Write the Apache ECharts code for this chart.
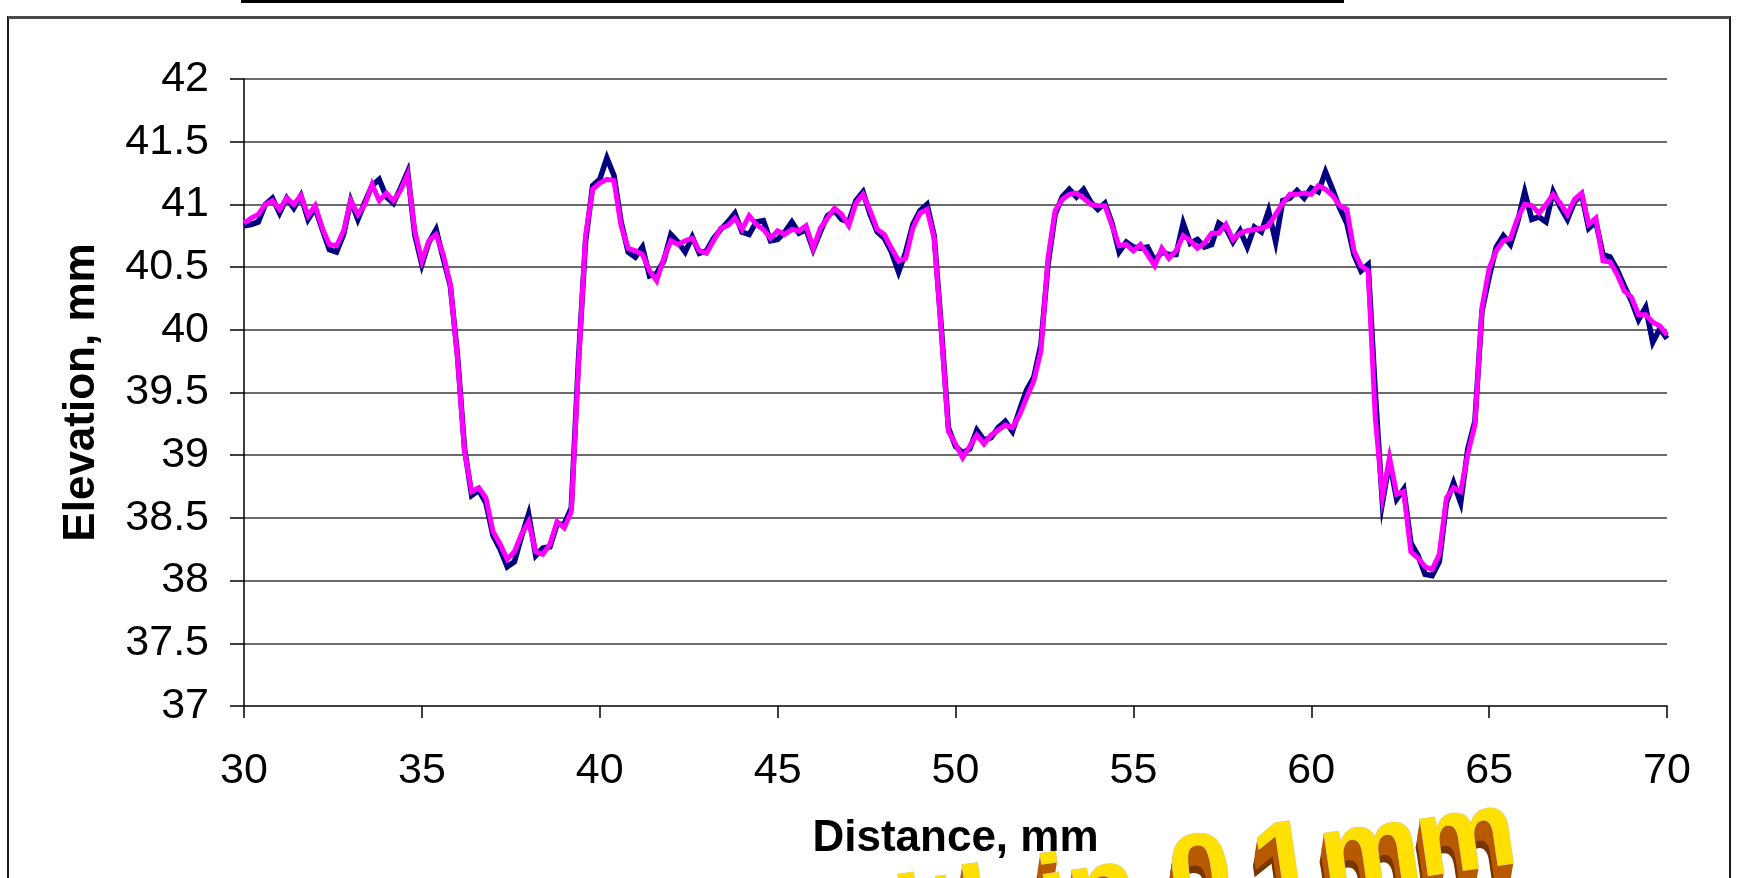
<!DOCTYPE html>
<html>
<head>
<meta charset="utf-8">
<title>Elevation profile</title>
<script src="https://cdn.jsdelivr.net/npm/echarts/dist/echarts.min.js"></script>
<style>
  html, body { margin: 0; padding: 0; background: #ffffff; }
  #chart { width: 1737px; height: 878px; }
</style>
</head>
<body>
<div id="chart"></div>
<script>
// Elevation profile, two overlaid scans sampled every 0.2 mm between 30 mm and 70 mm.
const SAMPLE_START_MM = 30;
const SAMPLE_STEP_MM = 0.2;

const X_TICKS = [30, 35, 40, 45, 50, 55, 60, 65, 70];
const Y_TICKS = [37, 37.5, 38, 38.5, 39, 39.5, 40, 40.5, 41, 41.5, 42];

// Scan 1 (navy), elevation in mm
const scanNavy = [
  40.83, 40.84, 40.86, 41.00, 41.05, 40.93, 41.05, 40.97, 41.07, 40.88,
  40.97, 40.80, 40.64, 40.62, 40.76, 41.03, 40.88, 41.02, 41.15, 41.20,
  41.06, 41.01, 41.13, 41.26, 40.76, 40.52, 40.70, 40.80, 40.57, 40.35,
  39.80, 39.05, 38.68, 38.72, 38.62, 38.36, 38.25, 38.11, 38.15, 38.35,
  38.53,
  38.20, 38.26, 38.27, 38.45, 38.45, 38.58, 39.75, 40.70, 41.15, 41.20,
  41.37, 41.23, 40.86, 40.62, 40.58, 40.66, 40.43, 40.45, 40.55, 40.76,
  40.70, 40.62, 40.74, 40.61, 40.63, 40.73, 40.80, 40.86, 40.93, 40.78,
  40.76, 40.86, 40.87, 40.71, 40.72, 40.78, 40.86, 40.77, 40.80, 40.64,
  40.78, 40.91, 40.95, 40.88, 40.86, 41.03, 41.10, 40.92, 40.78, 40.73,
  40.62, 40.46, 40.62, 40.84, 40.95, 41.00, 40.75, 40.02, 39.22, 39.07,
  39.02, 39.05, 39.20, 39.12, 39.14, 39.22, 39.27, 39.19, 39.36, 39.52,
  39.62, 39.88, 40.52, 40.92, 41.06, 41.12, 41.06, 41.12, 41.02, 40.96,
  41.01, 40.85, 40.62, 40.70, 40.66, 40.65, 40.66, 40.55, 40.62, 40.60,
  40.60, 40.85, 40.69, 40.72, 40.66, 40.68, 40.85, 40.81, 40.70, 40.79,
  40.66, 40.82, 40.78, 40.95, 40.70, 41.03, 41.05, 41.11, 41.05, 41.13,
  41.10, 41.26, 41.12, 40.97, 40.85, 40.60, 40.47, 40.52, 39.50, 38.62,
  38.95, 38.65, 38.73, 38.30, 38.20, 38.05, 38.04, 38.15, 38.62, 38.78,
  38.62, 39.05, 39.27, 40.15, 40.42, 40.66, 40.75, 40.68, 40.86, 41.10,
  40.88, 40.90, 40.86, 41.10, 40.98, 40.88, 41.02, 41.08, 40.81, 40.86,
  40.60, 40.58, 40.48, 40.35, 40.23, 40.08, 40.18, 39.90, 40.01, 39.93
];

// Scan 2 (magenta), elevation in mm
const scanMagenta = [
  40.85, 40.89, 40.92, 41.00, 41.03, 40.96, 41.05, 41.00, 41.07, 40.91,
  40.99, 40.81, 40.68, 40.67, 40.79, 41.03, 40.92, 41.00, 41.16, 41.03,
  41.09, 41.03, 41.11, 41.24, 40.79, 40.55, 40.71, 40.76, 40.60, 40.36,
  39.78, 39.03, 38.71, 38.74, 38.66, 38.39, 38.29, 38.17, 38.23, 38.37,
  38.47,
  38.23, 38.21, 38.29, 38.47, 38.42, 38.55, 39.70, 40.75, 41.12, 41.17,
  41.20, 41.19, 40.83, 40.65, 40.63, 40.60, 40.47, 40.39, 40.57, 40.71,
  40.68, 40.71, 40.73, 40.63, 40.61, 40.71, 40.81, 40.83, 40.89, 40.80,
  40.91, 40.84, 40.80, 40.73, 40.79, 40.76, 40.80, 40.79, 40.83, 40.65,
  40.81, 40.89, 40.97, 40.92, 40.83, 41.01, 41.08, 40.95, 40.80, 40.76,
  40.65, 40.55, 40.57, 40.81, 40.93, 40.96, 40.73, 39.99, 39.19, 39.09,
  38.98, 39.07, 39.16, 39.09, 39.16, 39.20, 39.24, 39.22, 39.32, 39.46,
  39.59, 39.83, 40.57, 40.95, 41.04, 41.08, 41.09, 41.05, 41.00, 40.99,
  40.99, 40.83, 40.67, 40.68, 40.63, 40.68, 40.60, 40.51, 40.65, 40.57,
  40.63, 40.75, 40.71, 40.65, 40.69, 40.77, 40.77, 40.84, 40.72, 40.77,
  40.79, 40.80, 40.81, 40.83, 40.92, 41.01, 41.08, 41.08, 41.09, 41.08,
  41.15, 41.12, 41.07, 40.99, 40.96, 40.63, 40.51, 40.47, 39.30, 38.67,
  38.98, 38.69, 38.71, 38.23, 38.18, 38.11, 38.09, 38.21, 38.66, 38.74,
  38.71, 39.01, 39.24, 40.18, 40.49, 40.63, 40.71, 40.73, 40.89, 41.00,
  40.99, 40.93, 41.00, 41.08, 41.01, 40.92, 41.04, 41.09, 40.84, 40.89,
  40.55, 40.54, 40.44, 40.31, 40.26, 40.12, 40.12, 40.06, 40.03, 39.96
];

const FONT = '"Liberation Sans", Arial, Helvetica, sans-serif';

function toPoints(values) {
  return values.map((v, i) => [+(SAMPLE_START_MM + i * SAMPLE_STEP_MM).toFixed(1), v]);
}

// Extruded yellow lettering, laid out glyph by glyph along a rising baseline
const BADGE_GLYPHS = [
  { ch: 'w', left: 825 }, { ch: 'i', left: 905 }, { ch: 't', left: 935 },
  { ch: 'h', left: 969 }, { ch: 'i', left: 1047 }, { ch: 'n', left: 1076 },
  { ch: '0', left: 1178 }, { ch: '.', left: 1244 }, { ch: '1', left: 1262 },
  { ch: 'm', left: 1328 }, { ch: 'm', left: 1424 }
];

function badgeLayers() {
  const rot = 0.145;
  const slope = Math.tan(rot);
  const baseAt = (x) => 902 + slope * (1456 - x);
  const font = 'bold 108px ' + FONT;
  const layers = [];
  BADGE_GLYPHS.forEach((g) => {
    const by = baseAt(g.left + 40);
    for (let d = 28; d >= 1; d -= 1.5) {
      layers.push({
        type: 'text', x: g.left - d * 0.15, y: by + d, rotation: rot, scaleX: 1.05,
        silent: true, z: 50,
        style: { text: g.ch, font: font, fill: d > 21 ? '#7a3600' : '#b85a00', align: 'left', verticalAlign: 'bottom' }
      });
    }
    layers.push({
      type: 'text', x: g.left, y: by, rotation: rot, scaleX: 1.05, silent: true, z: 51,
      style: { text: g.ch, font: font, fill: '#ffe000', stroke: '#d8c890', lineWidth: 1, align: 'left', verticalAlign: 'bottom' }
    });
  });
  return layers;
}

const chart = echarts.init(document.getElementById('chart'), null, { renderer: 'canvas' });

chart.setOption({
  animation: false,
  backgroundColor: '#ffffff',
  grid: { left: 244, top: 79, width: 1423, height: 627, outerBoundsMode: 'none', containLabel: false },
  xAxis: {
    type: 'value',
    min: X_TICKS[0], max: X_TICKS[X_TICKS.length - 1], interval: 5,
    name: 'Distance, mm',
    nameLocation: 'middle',
    nameGap: 111,
    nameTextStyle: { fontFamily: FONT, fontSize: 44, fontWeight: 'bold', color: '#000' },
    axisLine: { show: true, onZero: false, lineStyle: { color: '#333', width: 1.5 } },
    axisTick: { show: true, length: 12, lineStyle: { color: '#000', width: 1.5 } },
    axisLabel: { fontFamily: FONT, fontSize: 43, color: '#000', margin: 44 },
    splitLine: { show: false }
  },
  yAxis: {
    type: 'value',
    min: Y_TICKS[0], max: Y_TICKS[Y_TICKS.length - 1], interval: 0.5,
    name: 'Elevation, mm',
    nameLocation: 'middle',
    nameGap: 140,
    nameTextStyle: { fontFamily: FONT, fontSize: 44, fontWeight: 'bold', color: '#000' },
    axisLine: { show: true, lineStyle: { color: '#000', width: 1.5 } },
    axisTick: { show: true, length: 14, lineStyle: { color: '#000', width: 1.5 } },
    axisLabel: { fontFamily: FONT, fontSize: 43, color: '#000', margin: 35 },
    splitLine: { show: true, lineStyle: { color: '#3a3a3a', width: 1.5 } }
  },
  series: [
    {
      name: 'Scan 1', type: 'line', data: toPoints(scanNavy),
      showSymbol: false, symbol: 'none', z: 2,
      lineStyle: { color: '#000080', width: 5.5, join: 'miter' }
    },
    {
      name: 'Scan 2', type: 'line', data: toPoints(scanMagenta),
      showSymbol: false, symbol: 'none', z: 3,
      lineStyle: { color: '#ff00ff', width: 5, join: 'miter' }
    }
  ],
  graphic: [
    { type: 'rect', silent: true, z: 40, shape: { x: 241, y: 0, width: 1103, height: 3 }, style: { fill: '#000' } },
    { type: 'rect', silent: true, z: 40, shape: { x: 8, y: 17, width: 1722, height: 900 }, style: { fill: 'none', stroke: '#1a1a1a', lineWidth: 2 } },
    { type: 'rect', silent: true, z: 41, shape: { x: 8, y: 16, width: 1722, height: 3 }, style: { fill: '#4a4a4a' } }
  ].concat(badgeLayers())
});
</script>
</body>
</html>
